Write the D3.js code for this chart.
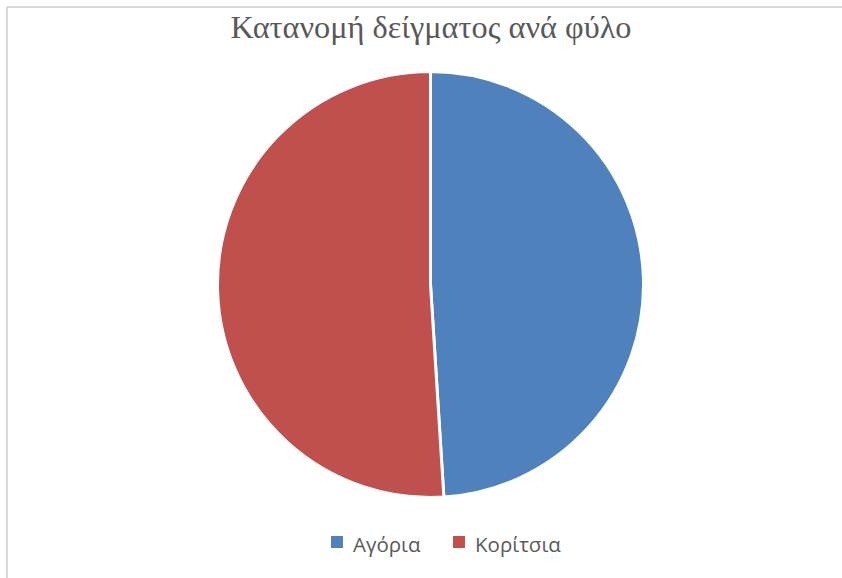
<!DOCTYPE html>
<html>
<head>
<meta charset="utf-8">
<script src="https://cdn.jsdelivr.net/npm/d3@7"></script>
<style>
  body { margin: 0; background: #fff; }
  svg { display: block; }
</style>
</head>
<body>
<svg id="chart" width="842" height="578"></svg>
<script>
// values
var categories = ["Αγόρια", "Κορίτσια"];
var values = [49, 51];
var colors = ["#4F81BD", "#C0504D"];
var title = "Κατανομή δείγματος ανά φύλο";

var svg = d3.select("#chart");

// frame: only top and left edges show
svg.append("path")
    .attr("d", "M7,578 L7,7 L842,7")
    .attr("fill", "none")
    .attr("stroke", "#d9d9d9")
    .attr("stroke-width", 2);

svg.append("text")
    .attr("x", 431)
    .attr("y", 38)
    .attr("text-anchor", "middle")
    .style("font-family", "'Liberation Serif', 'Times New Roman', serif")
    .style("font-size", "32.3px")
    .style("fill", "#595959")
    .text(title);

var pie = d3.pie().sort(null).value(function(d) { return d; });
var arc = d3.arc().innerRadius(0).outerRadius(213);

var g = svg.append("g").attr("transform", "translate(430.5,284.5)");
g.selectAll("path")
    .data(pie(values))
    .enter().append("path")
    .attr("d", arc)
    .attr("fill", function(d, i) { return colors[i]; })
    .attr("stroke", "#fff")
    .attr("stroke-width", 3)
    .attr("stroke-linejoin", "round");

// legend
var legendX = [331, 453];
var legend = svg.selectAll(".legend")
    .data(categories)
    .enter().append("g")
    .attr("class", "legend")
    .attr("transform", function(d, i) { return "translate(" + legendX[i] + ",536)"; });
legend.append("rect")
    .attr("width", 12)
    .attr("height", 12)
    .attr("fill", function(d, i) { return colors[i]; });
legend.append("text")
    .attr("x", 22)
    .attr("y", 16)
    .style("font-family", "'Open Sans', 'Noto Sans', sans-serif")
    .style("font-size", "20.5px")
    .style("fill", "#595959")
    .text(function(d) { return d; });
</script>
</body>
</html>
